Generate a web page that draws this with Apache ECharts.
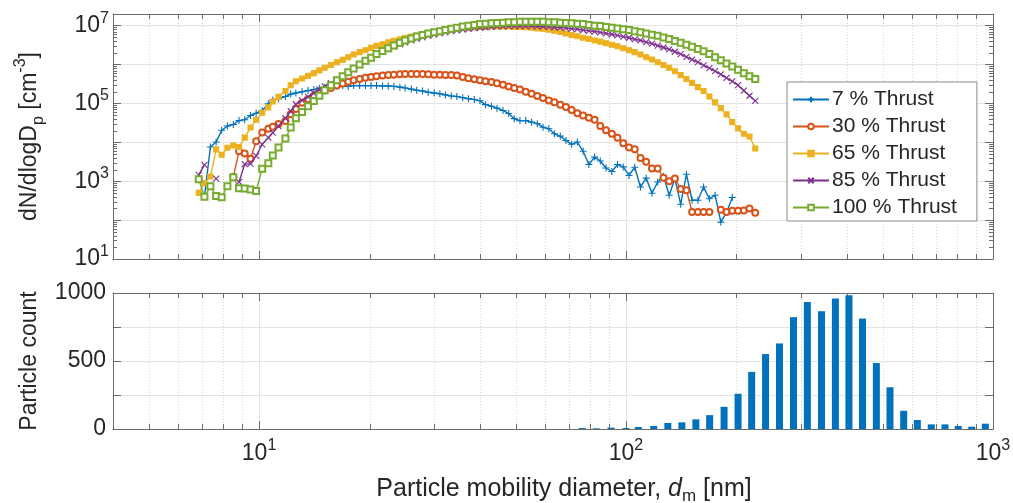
<!DOCTYPE html>
<html><head><meta charset="utf-8">
<script src="https://cdn.jsdelivr.net/npm/echarts@6/dist/echarts.min.js"></script>
<style>html,body{margin:0;padding:0;background:#fff}#c{width:1013px;height:503px}</style>
</head><body><div id="c"></div>
<script>
// ---------- data ----------
const diameters = [6.85, 7.10, 7.37, 7.64, 7.91, 8.20, 8.51, 8.82, 9.14, 9.48,
  9.82, 10.2, 10.6, 10.9, 11.3, 11.8, 12.2, 12.6, 13.1, 13.6,
  14.1, 14.6, 15.1, 15.7, 16.3, 16.9, 17.5, 18.1, 18.8, 19.5,
  20.2, 20.9, 21.7, 22.5, 23.3, 24.2, 25.0, 26.0, 26.9, 27.9,
  28.9, 30.0, 31.1, 32.2, 33.4, 34.6, 35.9, 37.2, 38.6, 40.0,
  41.4, 43.0, 44.5, 46.2, 47.9, 49.6, 51.4, 53.3, 55.3, 57.3,
  59.4, 61.6, 63.8, 66.2, 68.6, 71.1, 73.7, 76.4, 79.2, 82.1,
  85.1, 88.2, 91.5, 94.8, 98.3, 101.9, 105.6, 109.5, 113.5, 117.7,
  122.0, 126.5, 131.1, 135.9, 140.9, 146.1, 151.4, 157.0, 162.7, 168.7,
  174.9, 181.3, 187.9, 194.8, 202.0, 209.4, 217.0, 225.0];

const thrust7 = [null, 400, 7.6e3, 1.02e4, 2.04e4, 2.63e4, 2.88e4, 3.63e4, 3.80e4, 4.90e4,
  5.62e4, 6.61e4, 9.77e4, 1.23e5, 1.32e5, 1.51e5, 1.74e5, 1.86e5, 2.00e5, 2.14e5,
  2.29e5, 2.45e5, 2.57e5, 2.69e5, 2.82e5, 2.88e5, 2.75e5, 2.88e5, 2.88e5, 2.88e5,
  2.88e5, 2.88e5, 2.82e5, 2.82e5, 2.75e5, 2.63e5, 2.51e5, 2.34e5, 2.19e5, 2.09e5,
  1.95e5, 1.86e5, 1.78e5, 1.66e5, 1.55e5, 1.51e5, 1.41e5, 1.32e5, 1.26e5, 1.17e5,
  9.33e4, 8.51e4, 7.59e4, 6.61e4, 5.50e4, 4.07e4, 3.63e4, 3.63e4, 3.31e4, 3.02e4,
  2.45e4, 2.24e4, 1.66e4, 1.45e4, 1.12e4, 8.91e3, 1.02e4, 5.89e3, 2.69e3, 4.17e3,
  3.31e3, 2.19e3, 1.78e3, 2.69e3, 2.34e3, 1.41e3, 2.29e3, 708, 1.20e3, 490,
  955, 1.35e3, 437, 1.17e3, 257, 1.51e3, 324, 324, 708, 355,
  437, 89, 158, 380, null, null, null, null];

const thrust30 = [null, null, null, null, null, null, 1.29e3, 5.89e3, 5.13e3, 3.80e3,
  1.07e4, 1.78e4, 2.24e4, 2.51e4, 2.95e4, 3.55e4, 5.25e4, 7.24e4, 1.05e5, 1.29e5,
  1.55e5, 1.82e5, 2.14e5, 2.51e5, 2.88e5, 3.24e5, 3.63e5, 3.98e5, 4.27e5, 4.57e5,
  4.79e5, 5.01e5, 5.25e5, 5.37e5, 5.50e5, 5.62e5, 5.75e5, 5.75e5, 5.75e5, 5.75e5,
  5.62e5, 5.50e5, 5.50e5, 5.37e5, 5.37e5, 5.25e5, 4.79e5, 4.47e5, 4.17e5, 3.98e5,
  3.72e5, 3.55e5, 3.31e5, 3.02e5, 2.75e5, 2.51e5, 2.29e5, 2.00e5, 1.78e5, 1.55e5,
  1.38e5, 1.20e5, 1.07e5, 9.33e4, 8.13e4, 6.76e4, 5.62e4, 4.90e4, 4.27e4, 3.80e4,
  2.63e4, 2.04e4, 1.66e4, 1.32e4, 9.55e3, 7.41e3, 6.61e3, 3.98e3, 3.16e3, 2.14e3,
  2.14e3, 1.23e3, 1.00e3, 1.17e3, 631, 589, 162, 162, 162, 162,
  null, 186, 162, 174, 174, 178, 200, 155];

const thrust65 = [501, 891, 1.32e3, 6.61e3, 4.79e3, 7.24e3, 8.32e3, 7.59e3, 1.32e4, 2.40e4,
  3.80e4, 5.75e4, 7.94e4, 1.12e5, 1.48e5, 2.09e5, 2.95e5, 3.72e5, 4.37e5, 5.13e5,
  6.03e5, 7.08e5, 8.32e5, 9.77e5, 1.15e6, 1.32e6, 1.55e6, 1.82e6, 2.09e6, 2.34e6,
  2.69e6, 3.02e6, 3.31e6, 3.72e6, 4.07e6, 4.47e6, 4.90e6, 5.25e6, 5.62e6, 5.89e6,
  6.31e6, 6.76e6, 7.24e6, 7.76e6, 8.13e6, 8.51e6, 8.71e6, 8.91e6, 9.12e6, 9.33e6,
  9.33e6, 9.55e6, 9.55e6, 9.55e6, 9.55e6, 9.33e6, 9.33e6, 9.12e6, 8.91e6, 8.51e6,
  8.32e6, 7.94e6, 7.41e6, 6.92e6, 6.31e6, 5.75e6, 5.37e6, 4.90e6, 4.57e6, 4.17e6,
  3.89e6, 3.55e6, 3.24e6, 2.95e6, 2.63e6, 2.34e6, 2.09e6, 1.82e6, 1.55e6, 1.35e6,
  1.15e6, 9.77e5, 8.32e5, 6.76e5, 5.37e5, 4.27e5, 3.39e5, 2.63e5, 2.09e5, 1.51e5,
  1.07e5, 7.59e4, 5.25e4, 3.31e4, 2.29e4, 1.66e4, 1.41e4, 6.92e3];

const thrust85 = [1.45e3, 2.63e3, null, 1.17e3, null, null, null, 955, 2.75e3, 2.82e3,
  4.47e3, 8.91e3, 1.32e4, 1.78e4, 2.63e4, 4.17e4, 6.31e4, 9.55e4, 1.20e5, 1.48e5,
  1.86e5, 2.29e5, 2.75e5, 3.31e5, 3.98e5, 4.79e5, 6.03e5, 7.59e5, 9.55e5, 1.20e6,
  1.48e6, 1.78e6, 2.14e6, 2.51e6, 2.88e6, 3.31e6, 3.72e6, 4.17e6, 4.57e6, 5.01e6,
  5.50e6, 5.89e6, 6.31e6, 6.76e6, 7.24e6, 7.59e6, 7.94e6, 8.32e6, 8.71e6, 8.91e6,
  9.12e6, 9.33e6, 9.55e6, 9.55e6, 9.77e6, 9.77e6, 9.77e6, 9.77e6, 9.77e6, 9.55e6,
  9.55e6, 9.33e6, 9.12e6, 8.91e6, 8.71e6, 8.32e6, 8.13e6, 7.76e6, 7.41e6, 7.08e6,
  6.76e6, 6.31e6, 6.03e6, 5.62e6, 5.25e6, 4.90e6, 4.47e6, 4.17e6, 3.80e6, 3.47e6,
  3.09e6, 2.75e6, 2.45e6, 2.14e6, 1.86e6, 1.58e6, 1.35e6, 1.15e6, 9.55e5, 8.13e5,
  6.76e5, 5.62e5, 4.57e5, 3.72e5, 2.95e5, 2.14e5, 1.58e5, 1.17e5];

const thrust100 = [1.12e3, 398, 741, 417, 389, 741, 1.26e3, 661, 646, 617,
  562, 2.09e3, 2.88e3, 4.57e3, 7.41e3, 1.26e4, 2.40e4, 4.17e4, 6.03e4, 8.51e4,
  1.15e5, 1.58e5, 2.19e5, 2.95e5, 3.98e5, 5.01e5, 6.31e5, 7.94e5, 1.00e6, 1.26e6,
  1.51e6, 1.86e6, 2.24e6, 2.63e6, 3.09e6, 3.63e6, 4.17e6, 4.68e6, 5.25e6, 5.75e6,
  6.31e6, 6.76e6, 7.24e6, 7.76e6, 8.32e6, 8.91e6, 9.55e6, 1.00e7, 1.05e7, 1.10e7,
  1.12e7, 1.15e7, 1.17e7, 1.20e7, 1.23e7, 1.23e7, 1.26e7, 1.26e7, 1.26e7, 1.26e7,
  1.26e7, 1.23e7, 1.23e7, 1.20e7, 1.17e7, 1.15e7, 1.12e7, 1.10e7, 1.05e7, 1.00e7,
  9.77e6, 9.33e6, 8.91e6, 8.51e6, 8.13e6, 7.76e6, 7.24e6, 6.76e6, 6.31e6, 5.89e6,
  5.50e6, 5.01e6, 4.57e6, 4.07e6, 3.63e6, 3.24e6, 2.88e6, 2.51e6, 2.19e6, 1.86e6,
  1.55e6, 1.29e6, 1.07e6, 8.91e5, 7.41e5, 6.03e5, 5.01e5, 4.27e5];

const seriesNames = ['7 % Thrust', '30 % Thrust', '65 % Thrust', '85 % Thrust', '100 % Thrust'];

const barDiameters = [76, 83, 91, 100, 108, 119, 130, 142, 155, 169, 185, 202, 220, 240, 262,
  286, 312, 341, 372, 405, 441, 481, 524, 571, 622, 679, 740, 804, 875, 953];
const barCounts = [7, 5, 10, 7, 15, 22, 44, 49, 71, 102, 163, 259, 420, 551, 629,
  822, 934, 866, 959, 983, 812, 485, 307, 134, 66, 34, 34, 22, 17, 39];

const xMinorTicks = [5, 6, 7, 8, 9, 20, 30, 40, 50, 60, 70, 80, 90, 200, 300, 400, 500, 600, 700, 800, 900];
const yMinorTicks = [20, 30, 40, 50, 60, 70, 80, 90,
  200, 300, 400, 500, 600, 700, 800, 900,
  2e3, 3e3, 4e3, 5e3, 6e3, 7e3, 8e3, 9e3,
  2e4, 3e4, 4e4, 5e4, 6e4, 7e4, 8e4, 9e4,
  2e5, 3e5, 4e5, 5e5, 6e5, 7e5, 8e5, 9e5,
  2e6, 3e6, 4e6, 5e6, 6e6, 7e6, 8e6, 9e6];

// ---------- styling ----------
const FONT = '"Liberation Sans", Arial, Helvetica, sans-serif';
const TXT = '#262626';
const AX = '#6b6b6b';
const GRIDC = '#e3e3e3';
const colors = ['#0072BD', '#D95319', '#EDB120', '#7E2F8E', '#77AC30'];
const symbols = ['path://M5,0L5,10M0,5L10,5', 'emptyCircle', 'rect', 'path://M0,0L10,10M10,0L0,10', 'emptyRect'];
const symSizes = [7, 6, 5, 6, 6];
const seriesData = [thrust7, thrust30, thrust65, thrust85, thrust100];

function powLabel(v, oddOnly) {
  const l = Math.log10(v);
  const e = Math.round(l);
  if (Math.abs(l - e) > 1e-6) return '';
  if (oddOnly && e % 2 === 0) return '';
  return '{b|10}{e|' + e + '}';
}
const powRich = {
  b: {fontSize: 23, fontFamily: FONT, color: TXT, lineHeight: 31},
  e: {fontSize: 16, fontFamily: FONT, color: TXT, verticalAlign: 'top', lineHeight: 17}
};

function tickRenderer(yRef, withYMinor) {
  return function (params, api) {
    const cs = params.coordSys;
    const L = cs.x, R = cs.x + cs.width, T = cs.y, B = cs.y + cs.height;
    const ch = [];
    const st = {stroke: AX, lineWidth: 1};
    const gst = {stroke: '#d4d4d4', lineWidth: 1, lineDash: [1, 2]};
    xMinorTicks.forEach(function (v) {
      const x = Math.round(api.coord([v, yRef])[0]) + 0.5;
      ch.push({type: 'line', shape: {x1: x, y1: T, x2: x, y2: B}, style: gst, z2: 0});
      ch.push({type: 'line', shape: {x1: x, y1: B, x2: x, y2: B - 5}, style: st, z2: 1});
      ch.push({type: 'line', shape: {x1: x, y1: T, x2: x, y2: T + 5}, style: st, z2: 1});
    });
    if (withYMinor) {
      yMinorTicks.forEach(function (v) {
        const y = Math.round(api.coord([10, v])[1]) + 0.5;
        ch.push({type: 'line', shape: {x1: L, y1: y, x2: L + 4, y2: y}, style: st, z2: 1});
        ch.push({type: 'line', shape: {x1: R, y1: y, x2: R - 4, y2: y}, style: st, z2: 1});
      });
    }
    return {type: 'group', children: ch};
  };
}

const lineSeries = seriesData.map(function (arr, k) {
  return {
    name: seriesNames[k], type: 'line', xAxisIndex: 0, yAxisIndex: 0,
    data: diameters.map(function (d, i) { return [d, arr[i] == null ? '-' : arr[i]]; }),
    symbol: symbols[k], symbolSize: symSizes[k], symbolKeepAspect: true,
    showSymbol: true, showAllSymbol: true, connectNulls: false, animation: false,
    lineStyle: {color: colors[k], width: 1.4},
    itemStyle: {color: colors[k], borderColor: colors[k], borderWidth: 1.1},
    emphasis: {disabled: true}, z: 3 + k
  };
});

const axisBase = {
  axisLine: {show: true, onZero: false, lineStyle: {color: AX, width: 1}},
  axisTick: {show: true, inside: true, length: 8, lineStyle: {color: AX, width: 1}}
};

const option = {
  animation: false,
  backgroundColor: '#ffffff',
  grid: [
    {left: 113, top: 14, width: 880, height: 245, containLabel: false, outerBoundsMode: 'none'},
    {left: 113, top: 293, width: 880, height: 136, containLabel: false, outerBoundsMode: 'none'}
  ],
  legend: {
    data: seriesNames, orient: 'vertical', left: 787, top: 82,
    padding: [7, 20, 3, 5], itemGap: 6, itemWidth: 36, itemHeight: 7,
    backgroundColor: '#ffffff', borderColor: '#8a8a8a', borderWidth: 1, borderRadius: 0,
    textStyle: {fontSize: 21, fontFamily: FONT, color: TXT, padding: [0, 0, 0, -2]},
    selectedMode: false
  },
  xAxis: [
    Object.assign({gridIndex: 0, type: 'log', logBase: 10, min: 4, max: 1000, position: 'bottom',
      axisLabel: {show: false}, splitLine: {show: true, lineStyle: {color: GRIDC, width: 1}}}, axisBase),
    Object.assign({gridIndex: 0, type: 'log', logBase: 10, min: 4, max: 1000, position: 'top',
      axisLabel: {show: false}, splitLine: {show: false}}, axisBase),
    Object.assign({gridIndex: 1, type: 'log', logBase: 10, min: 4, max: 1000, position: 'bottom',
      axisLabel: {show: true, margin: 9, formatter: function (v) { return powLabel(v, false); }, rich: powRich,
        showMinLabel: false},
      splitLine: {show: true, lineStyle: {color: GRIDC, width: 1}},
      name: 'Particle mobility diameter, {i|d}{s|m} [nm]', nameLocation: 'middle', nameGap: 44,
      nameTextStyle: {fontSize: 25, fontFamily: FONT, color: TXT, lineHeight: 32, padding: [0, 0, 0, 22],
        rich: {i: {fontSize: 25, fontStyle: 'italic', fontFamily: FONT, color: TXT, lineHeight: 32},
               s: {fontSize: 17, fontFamily: FONT, color: TXT, verticalAlign: 'bottom', lineHeight: 18}}}
    }, axisBase),
    Object.assign({gridIndex: 1, type: 'log', logBase: 10, min: 4, max: 1000, position: 'top',
      axisLabel: {show: false}, splitLine: {show: false}}, axisBase)
  ],
  yAxis: [
    Object.assign({gridIndex: 0, type: 'log', logBase: 10, min: 10, max: 2e7, position: 'left',
      axisLabel: {show: true, margin: 4, formatter: function (v) { return powLabel(v, true); }, rich: powRich,
        showMaxLabel: false},
      splitLine: {show: true, lineStyle: {color: GRIDC, width: 1}},
      name: 'dN/dlogD{s|p} [cm{u|-3}]', nameLocation: 'middle', nameGap: 66, nameRotate: 90,
      nameTextStyle: {fontSize: 23, fontFamily: FONT, color: TXT, lineHeight: 34,
        rich: {s: {fontSize: 16, fontFamily: FONT, color: TXT, verticalAlign: 'bottom', lineHeight: 18},
               u: {fontSize: 16, fontFamily: FONT, color: TXT, verticalAlign: 'top', lineHeight: 18}}}
    }, axisBase),
    Object.assign({gridIndex: 0, type: 'log', logBase: 10, min: 10, max: 2e7, position: 'right',
      axisLabel: {show: false}, splitLine: {show: false}}, axisBase),
    Object.assign({gridIndex: 1, type: 'value', min: 0, max: 1000, interval: 250, position: 'left',
      axisLabel: {show: true, margin: 7, fontSize: 23, fontFamily: FONT, color: TXT,
        formatter: function (v) { return v % 500 === 0 ? String(v) : ''; }},
      splitLine: {show: true, lineStyle: {color: GRIDC, width: 1}},
      name: 'Particle count', nameLocation: 'middle', nameGap: 72, nameRotate: 90,
      nameTextStyle: {fontSize: 23, fontFamily: FONT, color: TXT}
    }, axisBase),
    Object.assign({gridIndex: 1, type: 'value', min: 0, max: 1000, interval: 250, position: 'right',
      axisLabel: {show: false}, splitLine: {show: false}}, axisBase)
  ],
  series: [
    {type: 'custom', xAxisIndex: 0, yAxisIndex: 0, data: [[10, 100]], silent: true, z: 1,
      renderItem: tickRenderer(100, true), clip: false},
    {type: 'custom', xAxisIndex: 2, yAxisIndex: 2, data: [[10, 500]], silent: true, z: 1,
      renderItem: tickRenderer(500, false), clip: false},
    {type: 'custom', xAxisIndex: 2, yAxisIndex: 2, silent: true, z: 3,
      data: barDiameters.map(function (d, i) { return [d, barCounts[i]]; }),
      renderItem: function (params, api) {
        const x = api.value(0), v = api.value(1);
        const p1 = api.coord([x, v]), p0 = api.coord([x, 0]);
        return {type: 'rect', shape: {x: p0[0] - 3.5, y: p1[1], width: 7, height: p0[1] - p1[1]},
          style: {fill: '#0072BD'}};
      }}
  ].concat(lineSeries)
};

const chart = echarts.init(document.getElementById('c'), null, {renderer: 'canvas', width: 1013, height: 503});
chart.setOption(option);
</script>
</body></html>
